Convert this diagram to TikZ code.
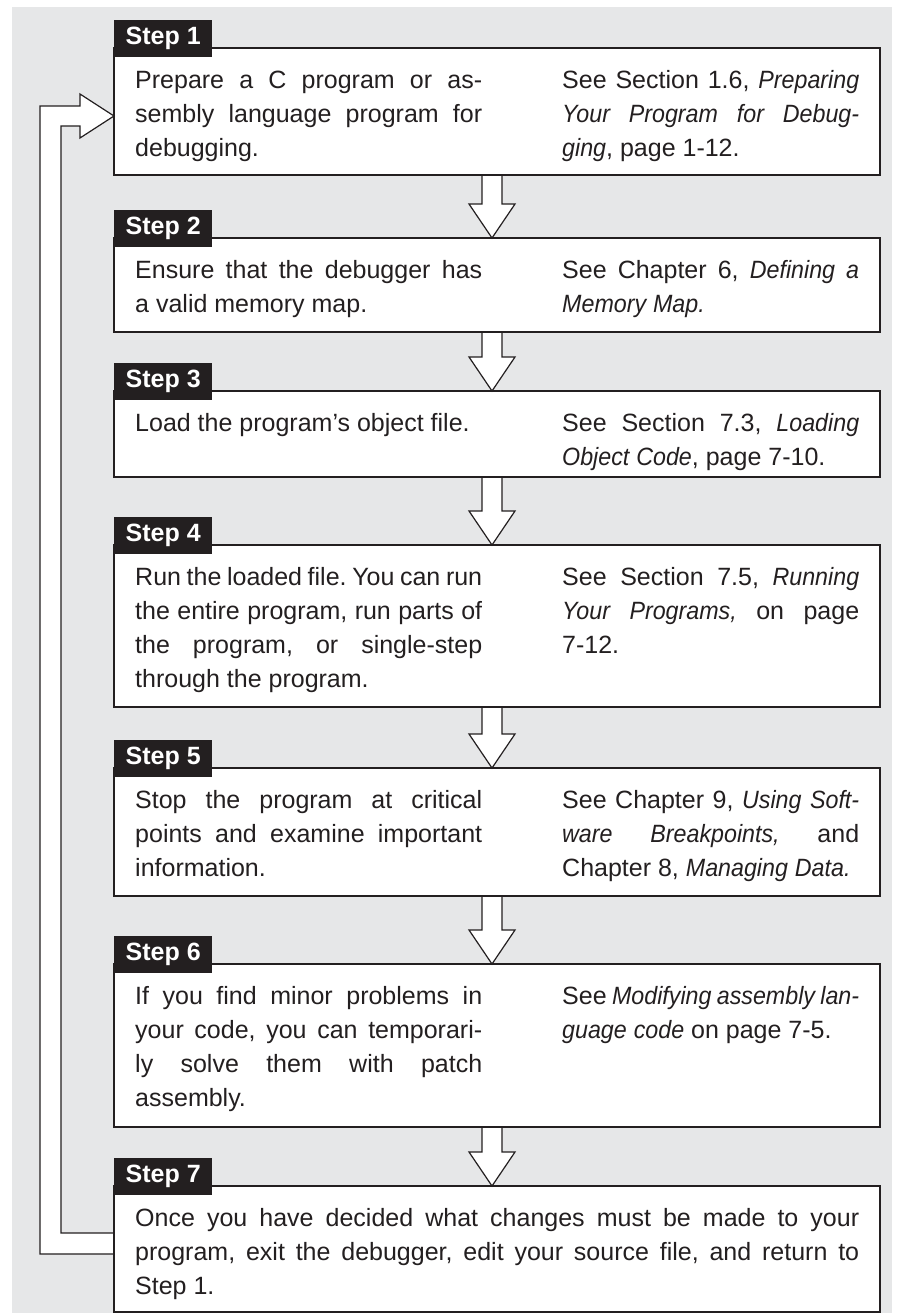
\documentclass[tikz,border=0pt]{standalone}
\usepackage{fontspec}
\setmainfont{Liberation Sans}[ItalicFeatures={FakeStretch=0.93}]
\usetikzlibrary{calc}
\definecolor{bg}{HTML}{E6E7E8}
\definecolor{ink}{HTML}{231F20}
\newcommand{\fl}{\rule{0pt}{25pt}}
\newcommand{\bodyfont}{\fontsize{25}{34}\selectfont\frenchspacing\spaceskip=.278em plus .4em minus .14em\relax}
\tolerance=10000
\hbadness=10000
\hfuzz=20pt
\begin{document}
\begin{tikzpicture}[x=1pt,y=-1pt,
  stepbox/.style={rectangle, draw=ink, line width=2pt, fill=white, inner sep=0pt, outer sep=0pt, minimum width=766pt, anchor=north west},
  tabbox/.style={rectangle, fill=ink, text=white, font=\bfseries\fontsize{25}{25}\selectfont, minimum width=98pt, minimum height=37pt, inner sep=0pt, anchor=north west},
  lefttext/.style={anchor=north west, inner sep=0pt, text width=347pt, align=justify, font=\bodyfont, text=ink},
  righttext/.style={anchor=north west, inner sep=0pt, text width=297pt, align=justify, font=\bodyfont, text=ink},
  widetext/.style={anchor=north west, inner sep=0pt, text width=724pt, align=justify, font=\bodyfont, text=ink},
  hollow/.style={draw=ink, line width=1.2pt, fill=white, line join=miter},
]
\useasboundingbox (0,0) rectangle (905,1313);
\fill[bg] (12,7) rectangle (892,1313);

% step boxes
\path
  node[stepbox, minimum height=127pt] (b1) at (114,48) {}
  node[stepbox, minimum height=94pt]  (b2) at (114,238) {}
  node[stepbox, minimum height=86pt]  (b3) at (114,391) {}
  node[stepbox, minimum height=162pt] (b4) at (114,545) {}
  node[stepbox, minimum height=128pt] (b5) at (114,768) {}
  node[stepbox, minimum height=163pt] (b6) at (114,964) {}
  node[stepbox, minimum height=126pt] (b7) at (114,1186) {};

% down arrows
\foreach \i/\j in {b1/b2,b2/b3,b3/b4,b4/b5,b5/b6,b6/b7}{
  \draw[hollow] ($(\i.south)+(-15,0)$) -- ($(\j.north)+(-15,-34)$) -- ($(\j.north)+(-28,-34)$)
    -- ($(\j.north)+(-5,0)$) -- ($(\j.north)+(18,-34)$) -- ($(\j.north)+(5,-34)$) -- ($(\i.south)+(5,0)$);
}

% return arrow from step 7 to step 1
\coordinate (tip) at ($(b1.north west)+(0,68)$);
\coordinate (in7) at ($(b7.north west)+(0,47)$);
\coordinate (out7) at ($(b7.north west)+(0,68)$);
\draw[hollow] (out7) -- ++(-74,0) |- ($(tip)+(-34,-10)$) -- ($(tip)+(-34,-22)$) -- (tip)
  -- ($(tip)+(-34,22)$) -- ($(tip)+(-34,10)$) -- ($(tip)+(-53,10)$) |- (in7);

% box borders on top of arrow ends
\foreach \b in {b1,b2,b3,b4,b5,b6,b7}{
  \draw[ink, line width=2pt] (\b.north west) rectangle (\b.south east);
}

% tabs
\node[tabbox] (t1) at ($(b1.north west)+(0,-28)$) {Step 1};
\node[tabbox] (t2) at ($(b2.north west)+(0,-28)$) {Step 2};
\node[tabbox] (t3) at ($(b3.north west)+(0,-28)$) {Step 3};
\node[tabbox] (t4) at ($(b4.north west)+(0,-28)$) {Step 4};
\node[tabbox] (t5) at ($(b5.north west)+(0,-28)$) {Step 5};
\node[tabbox] (t6) at ($(b6.north west)+(0,-28)$) {Step 6};
\node[tabbox] (t7) at ($(b7.north west)+(0,-28)$) {Step 7};

% texts
\node[lefttext] (l1) at ($(b1.north west)+(21,15)$) {\fl Prepare a C program or as-\linebreak sembly language program for\linebreak debugging.};
\node[righttext] (r1) at ($(b1.north west)+(448,15)$) {\fl See Section 1.6, \textit{Preparing}\linebreak \textit{Your Program for Debug-}\linebreak \textit{ging}, page 1-12.};

\node[lefttext] (l2) at ($(b2.north west)+(21,15)$) {\fl Ensure that the debugger has\linebreak a valid memory map.};
\node[righttext] (r2) at ($(b2.north west)+(448,15)$) {\fl See Chapter 6, \textit{Defining a}\linebreak \textit{Memory Map.}};

\node[lefttext] (l3) at ($(b3.north west)+(21,15)$) {\fl Load the program’s object file.};
\node[righttext] (r3) at ($(b3.north west)+(448,15)$) {\fl See Section 7.3, \textit{Loading}\linebreak \textit{Object Code}, page 7-10.};

\node[lefttext] (l4) at ($(b4.north west)+(21,15)$) {\fl Run the loaded file. You can run\linebreak the entire program, run parts of\linebreak the program, or single-step\linebreak through the program.};
\node[righttext] (r4) at ($(b4.north west)+(448,15)$) {\fl See Section 7.5, \textit{Running}\linebreak \textit{Your Programs,} on page\linebreak 7-12.};

\node[lefttext] (l5) at ($(b5.north west)+(21,15)$) {\fl Stop the program at critical\linebreak points and examine important\linebreak information.};
\node[righttext] (r5) at ($(b5.north west)+(448,15)$) {\fl See Chapter 9, \textit{Using Soft-}\linebreak \textit{ware Breakpoints,} and\linebreak Chapter 8, \textit{Managing Data.}};

\node[lefttext] (l6) at ($(b6.north west)+(21,15)$) {\fl If you find minor problems in\linebreak your code, you can temporari-\linebreak ly solve them with patch\linebreak assembly.};
\node[righttext] (r6) at ($(b6.north west)+(448,15)$) {\fl See \textit{Modifying assembly lan-}\linebreak \textit{guage code} on page 7-5.};

\node[widetext] (l7) at ($(b7.north west)+(21,15)$) {\fl Once you have decided what changes must be made to your\linebreak program, exit the debugger, edit your source file, and return to\linebreak Step 1.};
\end{tikzpicture}
\end{document}
